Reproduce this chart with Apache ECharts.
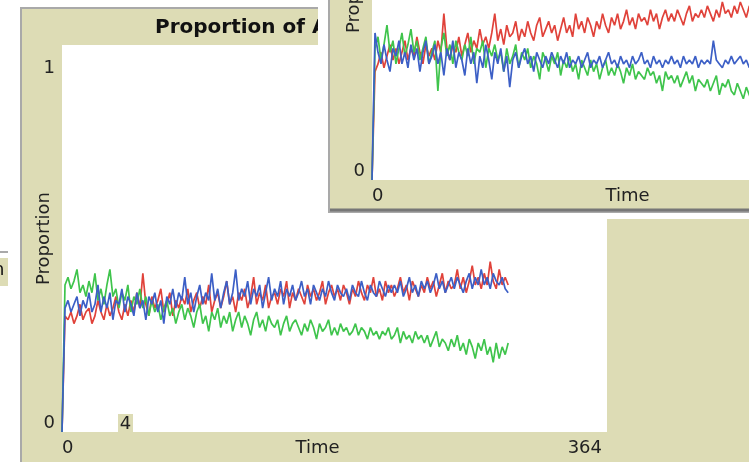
<!DOCTYPE html>
<html>
<head>
<meta charset="utf-8">
<script src="https://cdn.jsdelivr.net/npm/echarts@6/dist/echarts.min.js"></script>
<style>html,body{margin:0;padding:0;background:#fff;}#c{width:749px;height:462px;}</style>
</head>
<body>
<div id="c"></div>
<script>
// Sample spacing in ticks (time step between stored samples)
const STEP = 2;
const titleText = 'Proportion of Agents';
const xTickLabels = ['0', '364'];
const yTickLabels = ['0', '1'];

// Back plot (run 1)
const backRed = [0,
.30,.29,.31,.28,.30,.33,.29,.31,.32,.28,
.30,.34,.31,.29,.33,.30,.32,.35,.31,.29,
.33,.30,.34,.31,.36,.32,.41,.33,.30,.35,
.32,.34,.37,.31,.33,.36,.30,.34,.32,.35,
.33,.37,.31,.34,.36,.32,.35,.33,.38,.31,
.34,.36,.32,.35,.39,.33,.35,.31,.36,.34,
.37,.32,.35,.40,.33,.36,.34,.38,.32,.35,
.36,.33,.37,.35,.39,.32,.36,.34,.37,.35,
.33,.38,.35,.37,.34,.36,.39,.33,.36,.38,
.35,.37,.34,.38,.36,.33,.37,.35,.39,.36,
.34,.38,.36,.40,.35,.37,.34,.39,.36,.38,
.35,.37,.40,.36,.38,.34,.39,.37,.35,.38,
.36,.40,.37,.39,.35,.38,.41,.36,.39,.37,
.38,.42,.37,.40,.36,.39,.43,.38,.40,.37,
.41,.38,.44,.39,.37,.42,.38,.40,.38];
const backGreen = [0,
.38,.40,.37,.39,.42,.36,.38,.35,.39,.36,
.41,.34,.37,.33,.38,.42,.35,.37,.32,.36,
.34,.38,.31,.35,.33,.37,.32,.35,.30,.34,
.31,.33,.29,.32,.34,.30,.32,.28,.31,.33,
.29,.32,.30,.27,.31,.33,.28,.30,.26,.31,
.29,.32,.27,.30,.28,.31,.26,.29,.31,.27,
.30,.28,.25,.29,.31,.27,.29,.26,.30,.28,
.27,.29,.25,.28,.30,.26,.28,.29,.27,.25,
.28,.26,.29,.27,.24,.28,.26,.27,.29,.25,
.27,.25,.28,.26,.27,.25,.26,.28,.25,.27,
.26,.24,.27,.25,.26,.24,.26,.25,.27,.24,
.25,.27,.23,.26,.24,.25,.23,.26,.24,.25,
.23,.25,.22,.24,.26,.22,.24,.23,.21,.24,
.22,.25,.21,.23,.20,.24,.22,.19,.23,.21,
.24,.20,.22,.18,.23,.19,.22,.20,.23];
const backBlue = [0,
.32,.34,.31,.33,.35,.30,.34,.32,.36,.31,
.33,.38,.31,.35,.32,.36,.29,.34,.33,.37,
.31,.35,.33,.30,.36,.32,.34,.29,.35,.33,
.36,.31,.34,.28,.35,.33,.37,.32,.36,.34,
.40,.33,.36,.31,.35,.38,.33,.36,.34,.41,
.34,.37,.32,.36,.39,.33,.36,.42,.34,.37,
.35,.39,.33,.37,.35,.38,.32,.36,.40,.34,
.37,.35,.39,.33,.37,.35,.38,.34,.36,.39,
.35,.37,.33,.38,.36,.34,.37,.35,.39,.36,
.34,.38,.36,.35,.37,.34,.38,.36,.35,.39,
.36,.34,.38,.36,.35,.39,.37,.35,.38,.36,
.38,.36,.39,.35,.37,.40,.36,.38,.35,.39,
.37,.39,.36,.38,.41,.37,.39,.36,.38,.40,
.37,.40,.38,.36,.39,.41,.37,.40,.38,.42,
.38,.40,.37,.41,.39,.38,.40,.37,.36];

// Front plot (run 2)
const frontRed = [0,
.28,.30,.33,.29,.32,.35,.31,.34,.30,.33,
.36,.31,.34,.32,.37,.33,.30,.35,.32,.34,
.31,.36,.33,.43,.34,.31,.35,.33,.37,.32,
.35,.38,.33,.36,.34,.39,.35,.37,.34,.38,
.43,.36,.39,.35,.40,.37,.38,.41,.36,.39,
.37,.41,.38,.36,.40,.42,.37,.39,.41,.38,
.40,.36,.39,.42,.38,.40,.37,.43,.39,.41,
.38,.42,.40,.37,.41,.39,.43,.40,.38,.42,
.40,.43,.39,.41,.44,.40,.42,.39,.43,.41,
.42,.40,.44,.41,.43,.39,.42,.44,.41,.43,
.41,.44,.42,.40,.43,.45,.41,.43,.42,.44,
.42,.45,.43,.41,.44,.42,.46,.43,.44,.42,
.45,.43,.46,.44,.42,.45,.44,.46,.43,.45,
.44,.46,.43,.45,.44];
const frontGreen = [0,
.34,.37,.31,.35,.40,.33,.36,.30,.34,.38,
.32,.35,.39,.33,.36,.31,.34,.37,.30,.33,
.36,.23,.34,.38,.32,.35,.30,.36,.33,.31,
.35,.32,.37,.30,.34,.33,.36,.29,.34,.32,
.35,.31,.33,.28,.34,.30,.32,.35,.29,.33,
.31,.34,.29,.32,.30,.26,.33,.31,.28,.32,
.30,.33,.27,.31,.29,.32,.28,.30,.26,.31,
.29,.27,.31,.28,.30,.26,.29,.31,.27,.29,
.27,.30,.28,.25,.29,.27,.30,.26,.28,.27,
.26,.29,.27,.28,.25,.27,.23,.28,.26,.27,
.25,.27,.24,.26,.28,.25,.27,.23,.26,.25,
.24,.26,.23,.25,.27,.22,.25,.24,.26,.23,
.22,.25,.23,.21,.24,.22,.20,.23,.21,.22,
.23,.21,.22,.20,.22];
const frontBlue = [0,
.38,.33,.30,.35,.31,.28,.34,.32,.36,.30,
.33,.29,.35,.31,.34,.28,.33,.36,.30,.32,
.35,.30,.33,.27,.34,.31,.36,.29,.33,.31,
.27,.34,.30,.33,.25,.32,.29,.35,.31,.26,
.33,.30,.34,.28,.32,.24,.31,.33,.29,.32,
.34,.30,.32,.28,.33,.31,.29,.32,.30,.33,
.31,.29,.32,.30,.33,.29,.31,.30,.32,.29,
.31,.33,.29,.31,.30,.32,.29,.31,.33,.30,
.31,.29,.32,.30,.31,.29,.32,.30,.31,.33,
.30,.31,.29,.32,.30,.31,.29,.31,.30,.32,
.30,.31,.29,.32,.30,.31,.30,.32,.29,.31,
.30,.31,.30,.36,.31,.30,.29,.31,.30,.32,
.30,.31,.32,.30,.31,.29,.31,.30,.32,.31,
.30,.32,.31,.30,.31];

const TAN = '#dddcb5';
const FONT = 'DejaVu Sans';
const TXT = '#222';
const RED = '#e0423a', GREEN = '#3fc44c', BLUE = '#3c5fc6';

function pairs(vals) { return vals.map((v, i) => [i * STEP, v]); }

const chart = echarts.init(document.getElementById('c'), null, {renderer: 'canvas'});

function axesFor(gridIndex, z) {
  const x = {
    type: 'value', gridIndex: gridIndex, min: 0, max: 364, interval: 364, z: z,
    axisLine: {show: false}, axisTick: {show: false}, splitLine: {show: false},
    axisLabel: {
      fontFamily: FONT, fontSize: 18, color: TXT, margin: 7,
      alignMinLabel: 'left', alignMaxLabel: 'right',
      formatter: v => v === 0 ? xTickLabels[0] : '{r|' + xTickLabels[1] + '}',
      rich: {r: {fontFamily: FONT, fontSize: 18, color: TXT, padding: [0, 5, 0, 0]}}
    },
    name: 'Time', nameLocation: 'middle', nameGap: 7, nameMoveOverlap: false,
    nameTextStyle: {fontFamily: FONT, fontSize: 18, color: TXT, padding: [0, 34, 0, 0], verticalAlign: 'top'}
  };
  const y = {
    type: 'value', gridIndex: gridIndex, min: 0, max: 1, interval: 1, z: z,
    axisLine: {show: false}, axisTick: {show: false}, splitLine: {show: false},
    axisLabel: {
      fontFamily: FONT, fontSize: 18, color: TXT, margin: 7,
      verticalAlignMinLabel: 'bottom', verticalAlignMaxLabel: 'top',
      formatter: v => v === 1 ? '{t|' + yTickLabels[1] + '}' : yTickLabels[0],
      rich: {t: {fontFamily: FONT, fontSize: 18, color: TXT, padding: [14, 0, 0, 0]}}
    },
    name: 'Proportion', nameLocation: 'middle', nameRotate: 90, nameGap: 9, nameMoveOverlap: false,
    nameTextStyle: {fontFamily: FONT, fontSize: 18, color: TXT}
  };
  return [x, y];
}

function lineSeries(name, data, color, idx, z) {
  return {
    name: name, type: 'line', xAxisIndex: idx, yAxisIndex: idx, data: pairs(data),
    showSymbol: false, symbol: 'none', z: z, silent: true,
    lineStyle: {color: color, width: 1.7}, animation: false
  };
}

const [bx, by] = axesFor(0, 3);
const [fx, fy] = axesFor(1, 9);

const option = {
  animation: false,
  backgroundColor: '#ffffff',
  grid: [
    {left: 62, top: 45, width: 545, height: 387, outerBoundsMode: 'none', containLabel: false},
    {left: 372, top: -207, width: 545, height: 387, outerBoundsMode: 'none', containLabel: false}
  ],
  xAxis: [bx, fx],
  yAxis: [by, fy],
  graphic: {elements: [
    // back widget frame
    {type: 'rect', z: 0, shape: {x: 21, y: 8, width: 800, height: 500}, style: {fill: TAN, stroke: '#a9a9a9', lineWidth: 2}},
    {type: 'rect', z: 1, shape: {x: 62, y: 45, width: 545, height: 387}, style: {fill: '#ffffff'}},
    {type: 'text', z: 1, x: 155, y: 28, style: {text: titleText, fontFamily: FONT, fontWeight: 'bold', fontSize: 20, fill: '#111', verticalAlign: 'middle'}},
    // small overlapping monitor "4"
    {type: 'rect', z: 3, shape: {x: 118, y: 414, width: 15, height: 19}, style: {fill: TAN}},
    {type: 'text', z: 3, x: 125.5, y: 424, style: {text: '4', fontFamily: FONT, fontSize: 18, fill: TXT, align: 'center', verticalAlign: 'middle'}},
    // left edge fragment of another widget
    {type: 'rect', z: 1, shape: {x: 0, y: 251, width: 8, height: 2}, style: {fill: '#a9a9a9'}},
    {type: 'rect', z: 1, shape: {x: 0, y: 258, width: 8, height: 28}, style: {fill: TAN}},
    {type: 'text', z: 2, x: -7, y: 270, style: {text: 'n', fontFamily: FONT, fontSize: 18, fill: '#111', verticalAlign: 'middle'}},
    // front widget margin, frame and plot area
    {type: 'rect', z: 5, shape: {x: 318, y: -10, width: 460, height: 229}, style: {fill: '#ffffff'}},
    {type: 'rect', z: 6, shape: {x: 329, y: -10, width: 460, height: 222}, style: {fill: TAN, stroke: '#a9a9a9', lineWidth: 2}},
    {type: 'line', z: 6, shape: {x1: 330, y1: 210, x2: 760, y2: 210}, style: {stroke: '#777', lineWidth: 3}},
    {type: 'rect', z: 7, shape: {x: 372, y: -207, width: 545, height: 387}, style: {fill: '#ffffff'}}
  ]},
  series: [
    lineSeries('Red', backRed, RED, 0, 2),
    lineSeries('Green', backGreen, GREEN, 0, 2),
    lineSeries('Blue', backBlue, BLUE, 0, 2),
    lineSeries('Red 2', frontRed, RED, 1, 8),
    lineSeries('Green 2', frontGreen, GREEN, 1, 8),
    lineSeries('Blue 2', frontBlue, BLUE, 1, 8)
  ]
};
chart.setOption(option);
</script>
</body>
</html>
